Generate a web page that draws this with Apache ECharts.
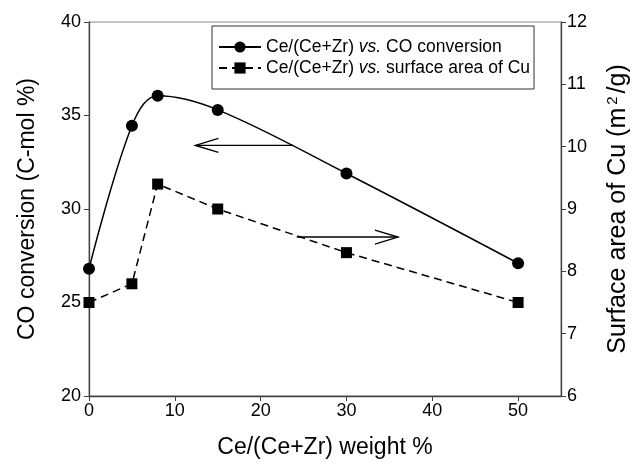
<!DOCTYPE html>
<html><head><meta charset="utf-8">
<script src="https://cdn.jsdelivr.net/npm/echarts@6/dist/echarts.min.js"></script>
<style>html,body{margin:0;padding:0;background:#fff}#c{width:642px;height:464px}</style>
</head><body><div id="c"></div>
<script>
const ceWeight = [0, 5, 8, 15, 30, 50];
const coConversion = [26.8, 34.45, 36.05, 35.3, 31.9, 27.1];
const cuSurface = [7.5, 7.8, 9.4, 9.0, 8.3, 7.5];
const xTicks = [0, 10, 20, 30, 40, 50];
const leftArrow = [[23.8, 33.4, 12.4]];   // [tailX, y, tipX] on left axis
const rightArrow = [[24.2, 8.55, 36.0]];  // [tailX, y, tipX] on right axis
const names = ['Ce/(Ce+Zr) vs. CO conversion', 'Ce/(Ce+Zr) vs. surface area of Cu'];

const font = 'Liberation Sans, Arial, sans-serif';
const chart = echarts.init(document.getElementById('c'));

function arrowRender(params, api) {
  const y = api.value(1);
  const p1 = api.coord([api.value(0), y]);
  const p2 = api.coord([api.value(2), y]);
  const dir = p2[0] > p1[0] ? 1 : -1;
  const L = 23, H = 7;
  const style = { stroke: '#000', lineWidth: 1.4, fill: null };
  return {
    type: 'group',
    children: [
      { type: 'line', shape: { x1: p1[0], y1: p1[1], x2: p2[0], y2: p2[1] }, style },
      { type: 'polyline', shape: { points: [[p2[0] - dir * L, p2[1] - H], [p2[0], p2[1]], [p2[0] - dir * L, p2[1] + H]] }, style }
    ]
  };
}

chart.setOption({
  animation: false,
  textStyle: { fontFamily: font, color: '#000' },
  grid: { left: 89, right: 81, top: 22, bottom: 62, show: true, borderColor: '#888', borderWidth: 1 },
  legend: {
    orient: 'vertical', left: 212, top: 26,
    padding: [12, 4, 12, 6], itemGap: 3,
    itemWidth: 42, itemHeight: 14,
    borderColor: '#333', borderWidth: 1,
    data: names,
    formatter: function (n) {
      const parts = n.split(' vs. ');
      return '{a|' + parts[0] + ' }{i|vs.}{a| ' + parts[1] + '}';
    },
    textStyle: {
      fontSize: 17.5, color: '#000', fontFamily: font, lineHeight: 18,
      rich: {
        a: { fontSize: 17.5, fontFamily: font, color: '#000', lineHeight: 18 },
        i: { fontSize: 17.5, fontFamily: font, fontStyle: 'italic', color: '#000', lineHeight: 18 }
      }
    }
  },
  xAxis: {
    type: 'value', min: 0, max: 55,
    name: 'Ce/(Ce+Zr) weight %', nameLocation: 'middle', nameGap: 40,
    nameTextStyle: { fontSize: 23, fontFamily: font, color: '#000' },
    axisLine: { lineStyle: { color: '#404040', width: 1.3 } },
    axisTick: { show: true, length: 5, customValues: xTicks, lineStyle: { color: '#404040' } },
    axisLabel: { customValues: xTicks, fontSize: 18, color: '#000', margin: 6, fontFamily: font },
    splitLine: { show: false }
  },
  yAxis: [
    {
      type: 'value', min: 20, max: 40, interval: 5, position: 'left',
      name: 'CO conversion (C-mol %)', nameLocation: 'middle', nameGap: 50, nameRotate: 90,
      nameTextStyle: { fontSize: 23, fontFamily: font, color: '#000' },
      axisLine: { show: true, lineStyle: { color: '#404040', width: 1.3 } },
      axisTick: { show: true, length: 5, lineStyle: { color: '#404040' } },
      axisLabel: { fontSize: 18, color: '#000', margin: 8, fontFamily: font },
      splitLine: { show: false }
    },
    {
      type: 'value', min: 6, max: 12, interval: 1, position: 'right',
      name: '{a|Surface area of Cu (m}{s|2}{a|/g)}', nameLocation: 'middle', nameGap: 44, nameRotate: 90,
      nameTextStyle: {
        fontSize: 25, fontFamily: font, color: '#000',
        rich: {
          a: { fontSize: 25, fontFamily: font, color: '#000' },
          s: { fontSize: 15, fontFamily: font, color: '#000', verticalAlign: 'top', padding: [0, 3, 11, 3] }
        }
      },
      axisLine: { show: true, lineStyle: { color: '#404040', width: 1.3 } },
      axisTick: { show: true, length: 5, lineStyle: { color: '#404040' } },
      axisLabel: { fontSize: 18, color: '#000', margin: 6, fontFamily: font },
      splitLine: { show: false }
    }
  ],
  series: [
    {
      name: names[0], type: 'line', yAxisIndex: 0, smooth: 0.35,
      data: ceWeight.map((x, i) => [x, coConversion[i]]),
      symbol: 'circle', symbolSize: 12,
      itemStyle: { color: '#000' },
      lineStyle: { color: '#000', width: 1.5 }
    },
    {
      name: names[1], type: 'line', yAxisIndex: 1,
      data: ceWeight.map((x, i) => [x, cuSurface[i]]),
      symbol: 'rect', symbolSize: 11,
      itemStyle: { color: '#000' },
      lineStyle: { color: '#000', width: 1.5, type: [8, 5] }
    },
    { type: 'custom', yAxisIndex: 0, data: leftArrow, renderItem: arrowRender, silent: true },
    { type: 'custom', yAxisIndex: 1, data: rightArrow, renderItem: arrowRender, silent: true }
  ]
});
</script></body></html>
